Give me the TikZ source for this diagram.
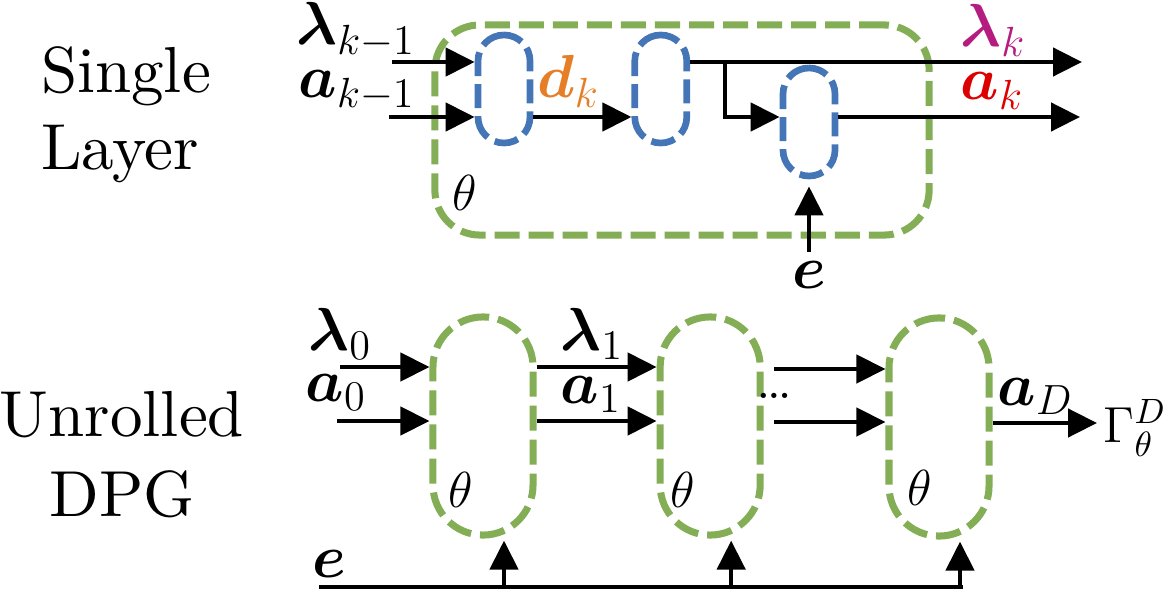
\documentclass[tikz,border=0pt]{standalone}
\usepackage{amsmath,amssymb}
\usepackage{fontspec}
\setmainfont{lmroman10-regular.otf}[BoldFont=lmroman10-bold.otf]
\usepackage{tikz}
\usetikzlibrary{arrows.meta,positioning,calc}
\definecolor{LayerGreen}{HTML}{84AE55}
\definecolor{BlockBlue}{HTML}{4475B6}
\definecolor{DirOrange}{HTML}{E57E26}
\definecolor{LamMagenta}{HTML}{B41C7F}
\definecolor{ActRed}{HTML}{DC0000}
\tikzset{
  arr/.style={-{Triangle[length=2.9mm,width=2.8mm]},line width=1.3pt,draw=black},
  bluepill/.style={draw=BlockBlue,line width=1.9pt,dash pattern=on 2.4mm off 0.8mm,minimum width=5.2mm,minimum height=10.8mm,rounded corners=2.6mm,inner sep=0pt},
  greenpill/.style={draw=LayerGreen,line width=2pt,dash pattern=on 2.5mm off 0.9mm,minimum width=1cm,minimum height=2.18cm,rounded corners=5mm,inner sep=0pt},
  layerbox/.style={draw=LayerGreen,line width=2pt,dash pattern=on 2.5mm off 0.9mm,minimum width=4.94cm,minimum height=2.1cm,rounded corners=4.5mm,inner sep=0pt},
  mlbl/.style={inner sep=0pt,anchor=base west},
  thlbl/.style={inner sep=0pt,anchor=base west,font=\fontsize{14.5}{17}\selectfont}
}

\begin{document}
\begin{tikzpicture}[x=0.01cm,y=-0.01cm,font=\fontsize{17}{20}\selectfont]
  \useasboundingbox (0,0) rectangle (1170,591);
  % titles
  \node[align=left,inner sep=0pt,font=\fontsize{18.5}{22}\selectfont] (single) at (126,115) {Single\\Layer};
  \node[align=center,inner sep=0pt,font=\fontsize{18.5}{22.8}\selectfont] (unrolled) at (122,455) {Unrolled\\DPG};
  % single layer
  \node[layerbox] (layer) at (682,130) {};
  \node[bluepill] (pa) at (504,89) {};
  \node[bluepill,right=0.98cm of pa] (pb) {};
  \node[bluepill] (pc) at (809,122) {};
  \coordinate (lamin) at (392,62); \coordinate (ain) at (389,117);
  \coordinate (lamout) at (1082,62); \coordinate (aout) at (1080,117);
  \coordinate (br) at (725,62); \coordinate (ein) at (809,252);
  \draw[arr] (lamin) -- (lamin -| pa.west);
  \draw[arr] (ain) -- (ain -| pa.west);
  \draw[arr] (pa.east |- ain) -- (pb.west |- ain);
  \draw[arr] (pb.east |- lamin) -- (lamout);
  \draw[arr] (br) |- (pc.west |- ain);
  \draw[arr] (pc.east |- ain) -- (aout);
  \draw[arr] (ein) -- ($(pc.south)+(0,7)$);
  \node[mlbl] (llamin) at (296,45) {$\boldsymbol{\lambda}_{k-1}$};
  \node[mlbl] (lain) at (298,98) {$\boldsymbol{a}_{k-1}$};
  \node[mlbl,text=DirOrange] (ldk) at (537,98) {$\boldsymbol{d}_k$};
  \node[mlbl,text=LamMagenta] (llamout) at (960,47) {$\boldsymbol{\lambda}_k$};
  \node[mlbl,text=ActRed] (laout) at (960,100) {$\boldsymbol{a}_k$};
  \node[inner sep=0pt,anchor=base] (le) at (809,288) {$\boldsymbol{e}$};
  \node[thlbl] (lth) at (452,210) {$\theta$};
  % unrolled
  \node[greenpill] (ga) at (483,426) {};
  \node[greenpill,right=1.2cm of ga] (gb) {};
  \node[greenpill] (gc) at (939,427) {};
  \coordinate (lam0) at (340,367); \coordinate (a0) at (337,421);
  \coordinate (lamd) at (774,369); \coordinate (ad) at (774,422);
  \coordinate (gout) at (1097,423);
  \coordinate (e0) at (319,587); \coordinate (e1) at (963,587);
  \draw[arr] (lam0) -- (lam0 -| ga.west);
  \draw[arr] (a0) -- (a0 -| ga.west);
  \draw[arr] (ga.east |- lam0) -- (gb.west |- lam0);
  \draw[arr] (ga.east |- a0) -- (gb.west |- a0);
  \draw[arr] (lamd) -- (lamd -| gc.west);
  \draw[arr] (ad) -- (ad -| gc.west);
  \draw[arr] (gc.east |- gout) -- (gout);
  \draw[line width=1.3pt] (e0) -- (e1);
  \foreach \g in {ga,gb,gc}
    \draw[arr] ($(\g.south |- e0)+(21,0)$) -- ($(\g.south)+(21,2)$);
  \node[mlbl] (llam0) at (308,350) {$\boldsymbol{\lambda}_0$};
  \node[mlbl] (la0) at (305,401) {$\boldsymbol{a}_0$};
  \node[mlbl] (llam1) at (560,350) {$\boldsymbol{\lambda}_1$};
  \node[mlbl] (la1) at (560,403) {$\boldsymbol{a}_1$};
  \node[inner sep=0pt,font=\fontsize{9.5}{11}\selectfont\bfseries] (dots) at (774,396) {...};
  \node[mlbl] (laD) at (997,405) {$\boldsymbol{a}_D$};
  \node[thlbl] (gam) at (1103,442) {$\Gamma_\theta^D$};
  \node[mlbl] (le0) at (312,577) {$\boldsymbol{e}$};
  \node[thlbl] (th1) at (448,507) {$\theta$};
  \node[thlbl] (th2) at (670,507) {$\theta$};
  \node[thlbl] (th3) at (907,505) {$\theta$};
\end{tikzpicture}
\end{document}
